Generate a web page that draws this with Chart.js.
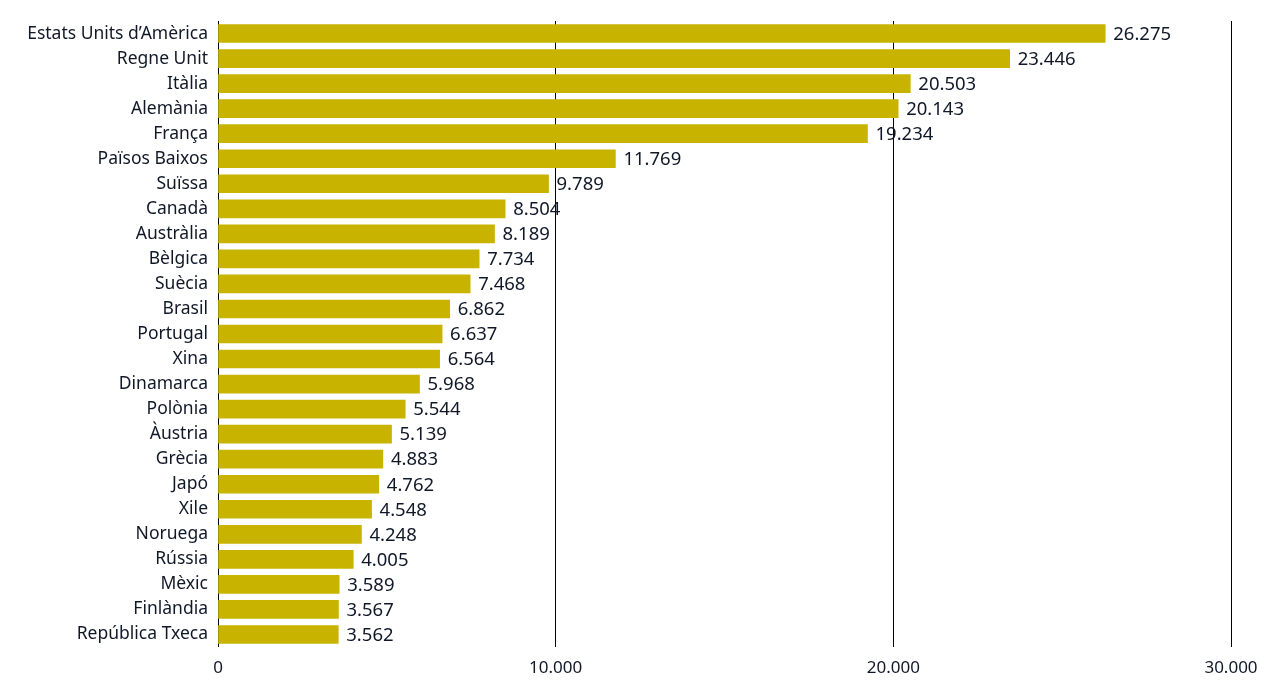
<!DOCTYPE html>
<html>
<head>
<meta charset="utf-8">
<script src="https://cdn.jsdelivr.net/npm/chart.js@4"></script>
<style>
  body { margin: 0; background: #fff; }
  #wrap { width: 1285px; height: 695px; }
</style>
</head>
<body>
<div id="wrap"><canvas id="myChart"></canvas></div>
<script>
var countries = ['Estats Units d\u2019Am\u00e8rica', 'Regne Unit', 'It\u00e0lia', 'Alem\u00e0nia', 'Fran\u00e7a', 'Pa\u00efsos Baixos', 'Su\u00efssa', 'Canad\u00e0', 'Austr\u00e0lia', 'B\u00e8lgica', 'Su\u00e8cia', 'Brasil', 'Portugal', 'Xina', 'Dinamarca', 'Pol\u00f2nia', '\u00c0ustria', 'Gr\u00e8cia', 'Jap\u00f3', 'Xile', 'Noruega', 'R\u00fassia', 'M\u00e8xic', 'Finl\u00e0ndia', 'Rep\u00fablica Txeca'];
var values = [26275, 23446, 20503, 20143, 19234, 11769, 9789, 8504, 8189, 7734, 7468, 6862, 6637, 6564, 5968, 5544, 5139, 4883, 4762, 4548, 4248, 4005, 3589, 3567, 3562];
var xTicks = [0, 10000, 20000, 30000];

var textColor = '#101828';
var fontFamily = '"Noto Sans", "Open Sans", sans-serif';

function fmt(n) {
  return String(n).replace(/\B(?=(\d{3})+(?!\d))/g, '.');
}

//value labels at bar ends
var valueLabels = {
  id: 'valueLabels',
  afterDatasetsDraw: function(chart) {
    var ctx = chart.ctx;
    var meta = chart.getDatasetMeta(0);
    ctx.save();
    ctx.fillStyle = textColor;
    ctx.font = '18.5px ' + fontFamily;
    ctx.textAlign = 'left';
    ctx.textBaseline = 'middle';
    meta.data.forEach(function(bar, i) {
      ctx.fillText(fmt(values[i]), bar.x + 8, bar.y + 1);
    });
    ctx.restore();
  }
};

var ctx = document.getElementById('myChart').getContext('2d');
var myChart = new Chart(ctx, {
  type: 'bar',
  data: {
    labels: countries,
    datasets: [{
      data: values,
      backgroundColor: '#C8B400',
      barThickness: 18
    }]
  },
  options: {
    indexAxis: 'y',
    responsive: true,
    maintainAspectRatio: false,
    animation: false,
    layout: { padding: { top: 21, right: 54, bottom: 0, left: 0 } },
    plugins: {
      legend: { display: false },
      tooltip: { enabled: false }
    },
    scales: {
      x: {
        min: 0,
        max: 30000,
        afterBuildTicks: function(scale) {
          scale.ticks = xTicks.map(function(v) { return { value: v }; });
        },
        afterFit: function(scale) { scale.height = 48; },
        grid: { color: '#000', lineWidth: 1, drawTicks: false },
        border: { display: false },
        ticks: {
          padding: 11,
          color: textColor,
          font: { family: fontFamily, size: 17 },
          callback: function(v) { return fmt(v); }
        }
      },
      y: {
        afterFit: function(scale) { scale.width = 218; },
        grid: { display: false },
        border: { display: false },
        ticks: {
          padding: 2,
          color: textColor,
          font: { family: fontFamily, size: 17.5 }
        }
      }
    }
  },
  plugins: [valueLabels]
});
</script>
</body>
</html>
